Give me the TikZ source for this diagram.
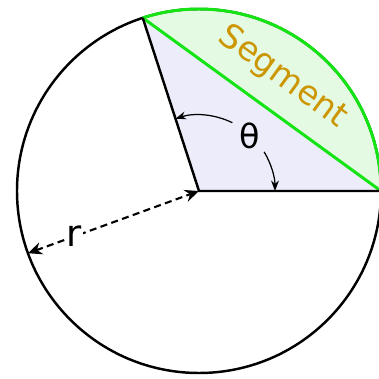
\documentclass[tikz,border=0pt]{standalone}
\usepackage{fontspec}
\setmainfont{DejaVu Sans}
\usepackage{tikz}
\usetikzlibrary{arrows.meta,positioning,calc}

\definecolor{chordgreen}{RGB}{20,228,20}
\definecolor{segfill}{RGB}{228,250,226}
\definecolor{sectfill}{RGB}{236,236,250}
\definecolor{segtext}{RGB}{204,150,0}

\tikzset{
  rim/.style={line width=1.4pt, black},
  greenline/.style={line width=1.7pt, chordgreen},
  anglearrow/.style={line width=0.7pt, -{Stealth[length=6pt,width=4.5pt]}},
  radarrow/.style={line width=1.2pt, dash pattern=on 4pt off 2.5pt,
    {Stealth[length=8pt,width=7pt]}-{Stealth[length=8pt,width=7pt]}}
}

\begin{document}
\begin{tikzpicture}[x=0.02cm,y=0.02cm]
            \useasboundingbox (-199,-188) rectangle (180,191);
            % centre and points on the rim
            \coordinate (O) at (0,0);
            \coordinate (A) at (0:182);
            \coordinate (B) at (108:182);
            \coordinate (R) at (200:182);
            \fill[segfill] (A) arc (0:108:182) -- cycle;
            \fill[sectfill] (O) -- (A) -- (B) -- cycle;
            \draw[rim] (O) circle (182);
            \draw[greenline] (A) arc (0:108:182);
            \draw[greenline] (A) -- (B);
            \draw[rim] (B) -- (O) -- (A);
            % angle
            \draw[anglearrow] (O) ++(64:76) arc (64:108:76);
            \draw[anglearrow] (O) ++(31:76) arc (31:0:76);
            \node (theta) at (47:75) {\fontsize{19}{20}\selectfont θ};
            % radius
            \draw[radarrow] (R) -- (O);
            \node[fill=white, inner sep=1pt] (rlabel) at ($(O)!0.73!(R)$) {\fontsize{21}{22}\selectfont r};
            \node[rotate=-36, text=segtext] (seglabel) at (84,114) {\fontsize{19}{20}\selectfont Segment};
\end{tikzpicture}
\end{document}
